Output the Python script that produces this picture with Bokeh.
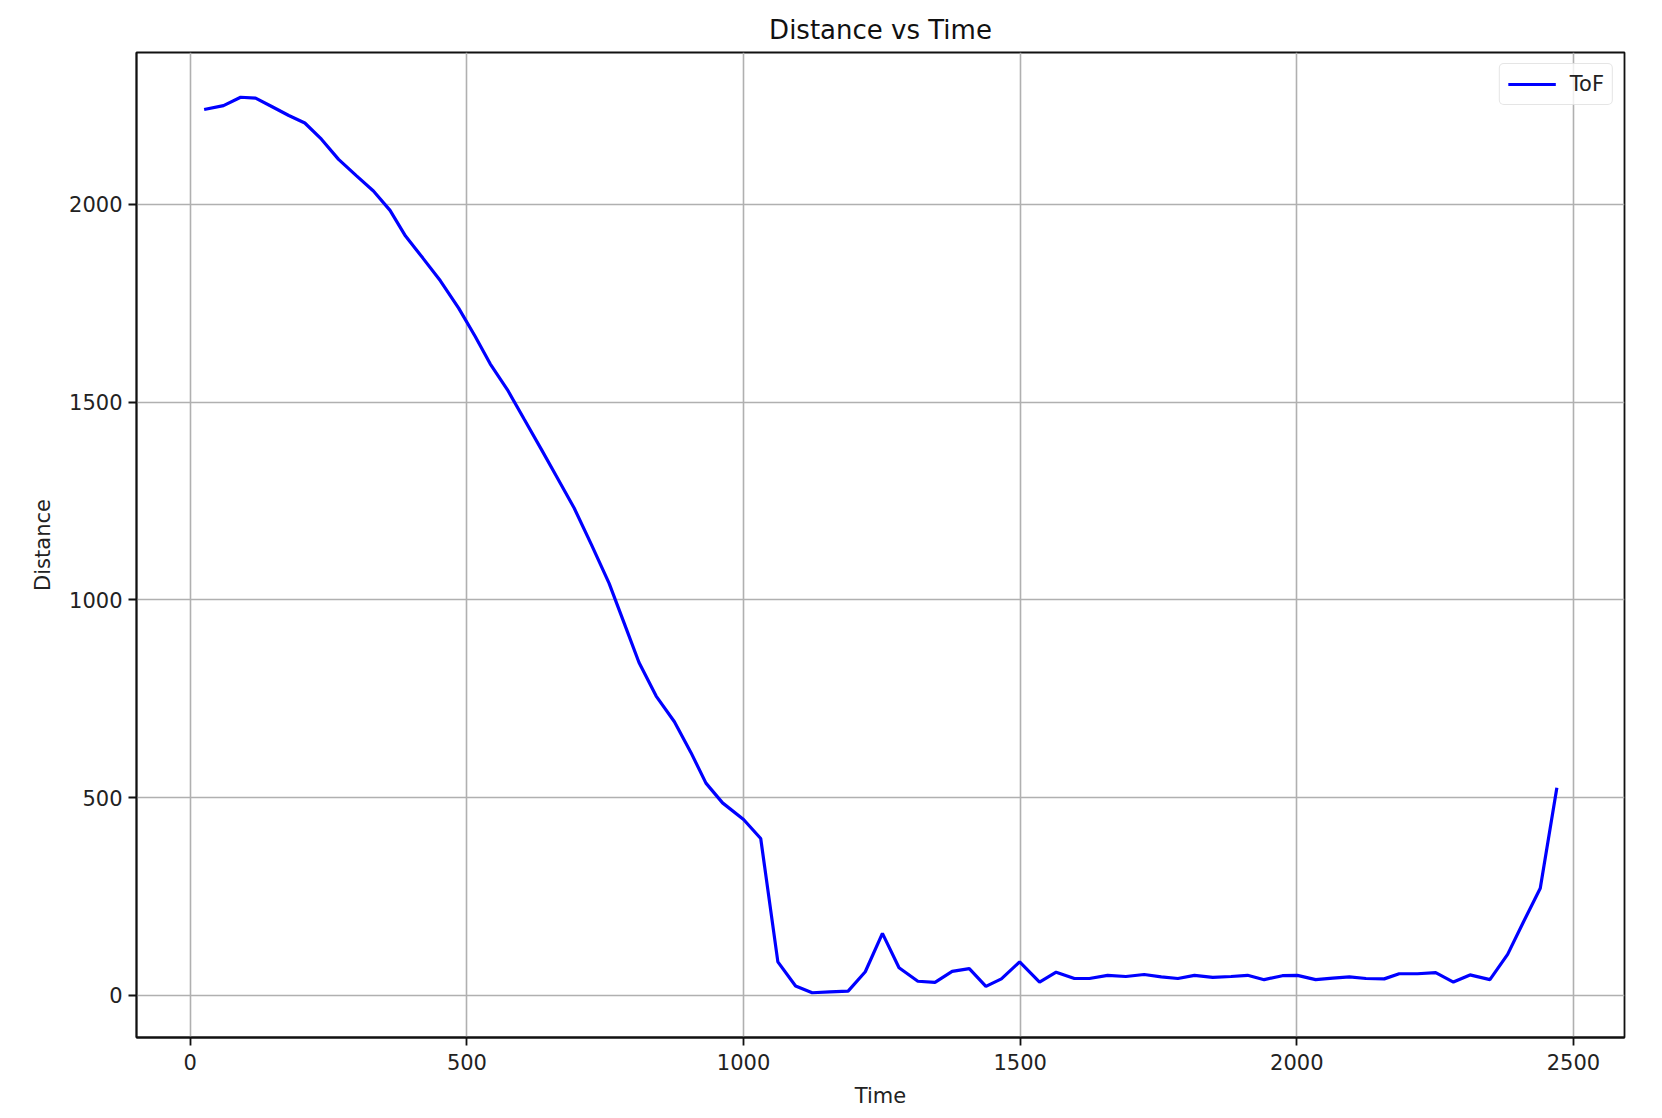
from bokeh.plotting import figure
from bokeh.models import Range1d, FixedTicker, Legend, LegendItem
from bokeh.embed import file_html
from bokeh.resources import INLINE

# ---- data ----
time = [25, 60, 91, 118, 148, 178, 207, 237, 268, 300, 331, 361, 389, 420,
        452, 485, 515, 542, 573, 603, 634, 664, 694, 725, 757, 784, 811, 842,
        875, 905, 932, 962, 1000, 1031, 1062, 1094, 1124, 1156, 1189, 1220,
        1251, 1281, 1315, 1346, 1377, 1408, 1438, 1466, 1499, 1535, 1565,
        1598, 1625, 1658, 1691, 1724, 1755, 1785, 1815, 1848, 1881, 1911,
        1941, 1974, 2001, 2034, 2065, 2095, 2125, 2158, 2185, 2218, 2251,
        2283, 2313, 2349, 2381, 2410, 2440, 2470]
distance = [2240, 2250, 2271, 2269, 2247, 2225, 2206, 2165, 2114, 2073, 2034,
            1985, 1920, 1865, 1807, 1738, 1666, 1597, 1532, 1458, 1382, 1307,
            1232, 1140, 1042, 942, 842, 757, 692, 614, 537, 487, 445, 397, 85,
            24, 7, 9, 11, 60, 157, 70, 36, 33, 61, 68, 23, 42, 85, 34, 59, 43,
            43, 51, 48, 53, 47, 43, 51, 46, 48, 51, 40, 50, 51, 40, 44, 47, 43,
            42, 55, 55, 58, 34, 52, 40, 104, 187, 271, 525]
x_ticks = [0, 500, 1000, 1500, 2000, 2500]
y_ticks = [0, 500, 1000, 1500, 2000]
series_name = "ToF"
title_text = "Distance vs Time"
x_label = "Time"
y_label = "Distance"

FONT = "DejaVu Sans"

# matplotlib-like 5% margins
xpad = 0.05 * (max(time) - min(time))
ypad = 0.05 * (max(distance) - min(distance))

p = figure(
    width=1662, height=1118,
    frame_width=1488, frame_height=985,
    min_border_left=136, min_border_right=38,
    min_border_top=52, min_border_bottom=81,
    x_range=Range1d(min(time) - xpad, max(time) + xpad),
    y_range=Range1d(min(distance) - ypad, max(distance) + ypad),
    output_backend="svg", toolbar_location=None,
    background_fill_color="white", border_fill_color="white",
)

# title
p.title.text = title_text
p.title.align = "center"
p.title.text_font = FONT
p.title.text_font_size = "26px"
p.title.text_font_style = "normal"
p.title.text_color = "#111111"
p.title.standoff = 16

# frame
p.outline_line_color = "#111111"
p.outline_line_width = 1.8
p.outline_line_alpha = 1.0

# grid
for g in (p.xgrid, p.ygrid):
    g.grid_line_color = "#b0b0b0"
    g.grid_line_width = 1.6
p.xgrid.ticker = FixedTicker(ticks=x_ticks)
p.ygrid.ticker = FixedTicker(ticks=y_ticks)

# axes
for ax in (p.xaxis[0], p.yaxis[0]):
    ax.axis_line_color = "#111111"
    ax.axis_line_width = 1.8
    ax.major_tick_line_color = "#111111"
    ax.major_tick_line_width = 1.8
    ax.major_tick_out = 8
    ax.major_tick_in = 0
    ax.minor_tick_line_color = None
    ax.major_label_text_font = FONT
    ax.major_label_text_font_size = "21px"
    ax.major_label_text_color = "#222222"
    ax.axis_label_text_font = FONT
    ax.axis_label_text_font_size = "21px"
    ax.axis_label_text_font_style = "normal"
    ax.axis_label_text_color = "#222222"
    ax.major_label_standoff = 6

p.xaxis[0].ticker = FixedTicker(ticks=x_ticks)
p.yaxis[0].ticker = FixedTicker(ticks=y_ticks)
p.xaxis[0].axis_label = x_label
p.yaxis[0].axis_label = y_label
p.xaxis[0].major_label_standoff = 8
p.xaxis[0].axis_label_standoff = 11
p.yaxis[0].axis_label_standoff = 11
p.yaxis[0].major_label_orientation = "horizontal"

r = p.line(time, distance, line_color="#0000ff", line_width=3.2)

legend = Legend(items=[LegendItem(label=series_name, renderers=[r])],
                location="top_right")
legend.label_text_font = FONT
legend.label_text_font_size = "21px"
legend.label_text_color = "#222222"
legend.glyph_width = 48
legend.glyph_height = 22
legend.label_height = 22
legend.label_standoff = 14
legend.padding = 8
legend.margin = 11
legend.border_line_color = "#cccccc"
legend.border_line_width = 1.5
legend.background_fill_alpha = 0.8
try:
    legend.border_radius = 5
except Exception:
    pass
p.add_layout(legend)

open("out.html", "w").write(file_html(p, INLINE))
